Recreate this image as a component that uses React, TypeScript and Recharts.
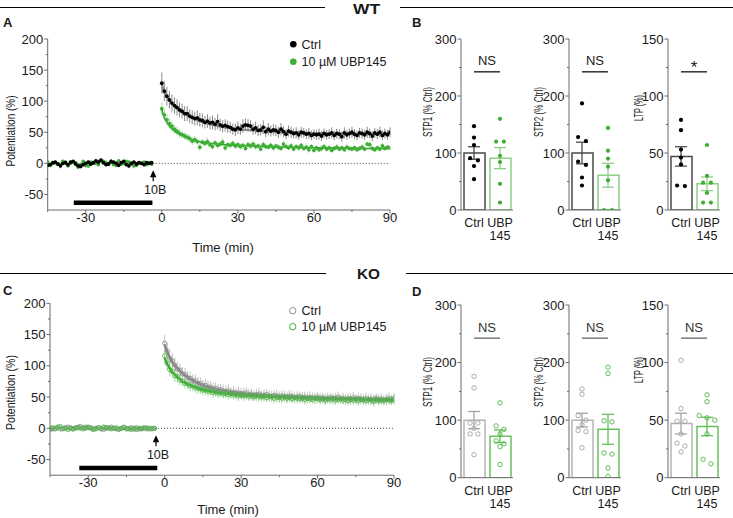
import React from 'react';
import {
  ComposedChart, Scatter, Line, Bar, Cell, XAxis, YAxis, ErrorBar, ReferenceLine, ReferenceDot,
} from 'recharts';

const FONT = '"Liberation Sans", Arial, Helvetica, sans-serif';
const INK = '#1a1a1a';
const AXIS = '#6b6b6b';
const GREEN = '#3eae35';
const GREEN_ERR = '#a6d9a0';
const TICK_FS = 13;

// ---------- time courses (A = WT, C = KO), one sample per minute ----------
const BASE_START = -45;
const POST_START = 0;
const T_MAJOR = [-30, 0, 30, 60, 90];
const T_TICKS = [-45, -30, -15, 0, 15, 30, 45, 60, 75, 90];
const P_MAJOR = [-50, 0, 50, 100, 150, 200];
const P_TICKS = [-50, -25, 0, 25, 50, 75, 100, 125, 150, 175, 200];
const ARROW_T = -3.4;
const DRUG_A = [-34.7, -3.7];
const DRUG_C = [-33.5, -2.9];
const LEGEND = ['Ctrl', '10 \u00b5M UBP145'];

const A_BASE_CTRL = [-3, -2, 1, 2, -1, -4, 0, 1, -2, 2, 3, -1, -4, -5, -2, 0, 2, -1, 1, 4, 2, 5, 1, -2, -1, 3, 2, 0, -3, 1, 3, -2, -4, 0, 2, -1, 1, 0, -2, 1, 0, 1];
const A_BASE_CTRL_SEM = [3, 2, 3, 3, 2, 4, 3, 2, 3, 3, 2, 3, 4, 3, 3, 2, 3, 3, 2, 3, 4, 3, 2, 3, 3, 4, 2, 3, 3, 2, 3, 3, 4, 3, 2, 3, 3, 2, 3, 3, 2, 3];
const A_BASE_UBP = [2, -3, 0, 1, -1, -2, 3, 2, -4, 0, 2, 1, -6, -2, 3, -3, -4, 2, 1, 0, -2, 4, 3, 1, -1, 2, -2, -3, 4, -1, 0, 3, 2, -1, -4, -3, 1, 0, 2, -2, 1, -1];
const A_BASE_UBP_SEM = [2, 3, 2, 3, 3, 2, 3, 4, 2, 3, 3, 2, 3, 3, 2, 4, 3, 2, 3, 3, 2, 3, 3, 4, 2, 3, 2, 3, 3, 2, 3, 2, 3, 3, 4, 2, 3, 3, 2, 3, 3, 2];
const A_POST_CTRL = [129, 116, 108, 102, 97, 93, 90, 86, 84, 80, 80, 76, 74, 72, 73, 70, 69, 66, 68, 65, 66, 63, 67, 62, 60, 61, 59, 58, 55, 54, 57, 55, 60, 62, 61, 60, 55, 57, 53, 54, 58, 51, 55, 52, 54, 53, 50, 55, 51, 47, 52, 50, 48, 49, 46, 50, 49, 47, 48, 45, 47, 46, 47, 44, 48, 46, 47, 49, 45, 48, 47, 43, 49, 46, 48, 50, 47, 45, 49, 48, 46, 50, 48, 44, 49, 47, 50, 45, 48, 46, 50];
const A_POST_CTRL_SEM = [17, 16, 15, 14, 14, 13, 13, 12, 12, 12, 12, 11, 11, 11, 12, 11, 11, 10, 11, 10, 11, 10, 12, 10, 10, 10, 10, 9, 9, 10, 10, 9, 11, 10, 10, 9, 9, 10, 9, 9, 11, 9, 10, 9, 9, 9, 9, 10, 9, 8, 9, 9, 8, 9, 8, 9, 8, 8, 9, 8, 8, 8, 9, 8, 8, 8, 8, 9, 8, 8, 8, 8, 9, 8, 8, 9, 8, 8, 8, 8, 8, 9, 8, 8, 8, 8, 9, 8, 8, 8, 8];
const A_POST_UBP = [88, 78, 70, 64, 60, 55, 52, 48, 46, 44, 42, 40, 36, 38, 35, 26, 34, 32, 35, 30, 27, 33, 29, 31, 34, 25, 30, 29, 32, 28, 30, 27, 29, 24, 30, 28, 31, 27, 28, 23, 30, 27, 26, 29, 25, 28, 26, 24, 31, 27, 25, 28, 23, 27, 25, 29, 24, 26, 22, 27, 21, 25, 22, 24, 27, 23, 25, 21, 24, 26, 23, 25, 22, 26, 24, 23, 25, 22, 24, 26, 23, 31, 30, 24, 22, 25, 23, 28, 24, 26, 25];
const A_POST_UBP_SEM = [10, 9, 9, 8, 8, 7, 7, 7, 6, 6, 6, 6, 6, 6, 5, 6, 5, 5, 6, 5, 5, 5, 5, 5, 6, 5, 5, 5, 5, 5, 5, 5, 5, 4, 5, 5, 5, 5, 5, 4, 5, 5, 4, 5, 5, 4, 5, 4, 5, 4, 4, 5, 4, 4, 5, 4, 4, 4, 5, 4, 4, 4, 4, 5, 4, 4, 4, 4, 4, 5, 4, 4, 4, 4, 4, 4, 5, 4, 4, 4, 4, 4, 5, 4, 4, 4, 4, 5, 4, 4, 4];

const C_BASE_CTRL = [-2, -1, 0, 1, -1, 0, 1, 2, 0, -1, 1, 2, 3, 1, 0, 2, 1, -1, 0, 1, -1, -2, 0, 1, 2, 0, -1, -2, 0, 1, 0, -1, 1, 0, -2, -1, 0, 1, -1, 0, -1, 0];
const C_BASE_CTRL_SEM = [2, 3, 2, 2, 3, 2, 3, 2, 2, 3, 2, 3, 2, 2, 3, 2, 2, 3, 2, 2, 3, 2, 2, 3, 2, 2, 3, 2, 3, 2, 2, 3, 2, 2, 3, 2, 2, 3, 2, 2, 3, 2];
const C_BASE_UBP = [0, 1, -1, 2, 3, -1, 0, -2, 1, -1, 0, 1, 0, -1, 2, 1, 0, -2, -1, 1, 0, 2, 1, 0, -1, 0, 1, -1, 0, 2, -1, 0, -2, -1, 1, 0, -1, 0, 1, -1, 0, 0];
const C_BASE_UBP_SEM = [3, 2, 2, 3, 2, 2, 3, 2, 3, 2, 2, 2, 3, 2, 2, 3, 2, 3, 2, 2, 2, 3, 2, 2, 3, 2, 2, 2, 3, 2, 3, 2, 2, 3, 2, 2, 3, 2, 2, 2, 3, 2];
const C_POST_CTRL = [136, 124, 112, 108, 101, 95, 93, 87, 86, 81, 80, 76, 76, 72, 72, 68, 69, 66, 66, 63, 64, 61, 62, 60, 59, 60, 57, 58, 56, 57, 56, 55, 57, 54, 55, 53, 54, 55, 52, 53, 54, 52, 51, 53, 52, 50, 52, 51, 50, 52, 51, 49, 50, 51, 49, 50, 48, 50, 49, 48, 50, 48, 49, 47, 48, 49, 47, 48, 50, 47, 48, 46, 48, 47, 49, 46, 48, 47, 46, 48, 46, 47, 45, 48, 46, 47, 45, 46, 48, 46, 47];
const C_POST_CTRL_SEM = [14, 13, 13, 12, 12, 12, 11, 11, 11, 11, 11, 10, 10, 10, 10, 10, 10, 10, 10, 10, 10, 10, 9, 10, 9, 10, 9, 10, 9, 9, 9, 10, 9, 9, 9, 9, 9, 10, 9, 9, 9, 9, 9, 9, 10, 9, 9, 9, 9, 9, 9, 9, 9, 8, 9, 9, 9, 9, 8, 9, 9, 9, 8, 9, 9, 8, 9, 9, 9, 8, 9, 9, 8, 9, 9, 8, 9, 9, 9, 9, 8, 9, 9, 8, 9, 9, 8, 9, 9, 8, 9];
const C_POST_UBP = [116, 104, 94, 91, 84, 83, 77, 76, 72, 71, 68, 68, 65, 64, 63, 61, 61, 59, 60, 57, 58, 56, 57, 55, 56, 54, 55, 53, 54, 52, 53, 52, 53, 51, 52, 50, 52, 51, 50, 51, 49, 51, 50, 48, 50, 49, 48, 50, 48, 49, 47, 49, 48, 47, 48, 46, 48, 47, 46, 48, 47, 46, 47, 45, 47, 46, 48, 45, 46, 47, 45, 46, 44, 46, 45, 47, 44, 46, 45, 44, 46, 45, 43, 46, 44, 45, 44, 46, 45, 44, 48];
const C_POST_UBP_SEM = [12, 11, 11, 10, 10, 10, 9, 9, 9, 9, 9, 9, 8, 9, 8, 8, 8, 8, 8, 8, 8, 8, 8, 7, 8, 8, 8, 7, 8, 8, 7, 8, 8, 7, 8, 7, 8, 8, 7, 8, 7, 8, 7, 8, 7, 7, 8, 7, 8, 7, 7, 7, 8, 7, 7, 8, 7, 7, 7, 8, 7, 7, 7, 8, 7, 7, 7, 8, 7, 7, 7, 8, 7, 7, 7, 7, 8, 7, 7, 7, 7, 7, 8, 7, 7, 7, 7, 8, 7, 7, 7];

// exponential fits, read at a few times
const FIT_T = [0, 1, 2, 3, 5, 7, 10, 15, 20, 25, 30, 40, 50, 60, 70, 80, 90];
const A_FIT_CTRL = [127, 115, 107, 101, 92, 85, 77, 68, 62, 58, 55, 52, 50, 48, 48, 47, 47];
const A_FIT_UBP = [86, 74, 66, 60, 52, 47, 41, 35, 32, 30, 29, 27, 26, 25, 25, 24, 24];
const C_FIT_CTRL = [134, 122, 113, 106, 96, 88, 79, 69, 63, 59, 56, 53, 51, 49, 48, 47, 46];
const C_FIT_UBP = [113, 103, 96, 90, 82, 75, 69, 62, 58, 55, 53, 51, 49, 48, 47, 46, 45];

// ---------- bar panels (B = WT, D = KO) ----------
const CATS = ['Ctrl', 'UBP 145'];
const B1_MEAN = [100, 91];
const B1_SEM = [11, 18.5];
const B1_CTRL = [147, 127, 114, 91, 87, 77, 54];
const B1_UBP = [160, 120, 120, 95, 84, 46, 13];
const B2_MEAN = [100, 61];
const B2_SEM = [19, 21];
const B2_CTRL = [187, 128, 121, 85, 79, 57, 43];
const B2_UBP = [144, 104, 90, 76, 52, 0, 0];
const B3_MEAN = [47, 23];
const B3_SEM = [8.5, 6];
const B3_CTRL = [79, 70, 53, 46, 40, 21, 21.5];
const B3_UBP = [57, 30, 24, 24, 15, 6.5, 6.5];
const D1_MEAN = [100, 72];
const D1_SEM = [15, 11];
const D1_CTRL = [176, 156, 95, 95, 86, 76, 76, 40];
const D1_UBP = [130, 90, 84, 76, 64, 59, 54, 23];
const D2_MEAN = [100, 84];
const D2_SEM = [12, 26];
const D2_CTRL = [154, 145, 108, 100, 92, 82, 80, 52];
const D2_UBP = [192, 181, 99, 97, 43, 41, 17, 2];
const D3_MEAN = [47, 44.5];
const D3_SEM = [9, 8];
const D3_CTRL = [102, 60, 49, 49, 38, 30, 27.5, 22.5];
const D3_UBP = [72, 66, 54, 52, 50, 38, 16, 12];

const pts = (start: number, vals: number[], errs: number[]) =>
  vals.map((y, i) => ({ t: start + i, y, e: errs[i] }));
const fit = (vals: number[]) => FIT_T.map((t, i) => ({ t, y: vals[i] }));

const xTick = (majors: number[]) => (p: any) => {
  const v = p.payload.value;
  const major = majors.includes(v);
  return (
    <g>
      <line x1={p.x} x2={p.x} y1={p.y} y2={p.y + (major ? 3.5 : 2)} stroke={AXIS} />
      {major && (
        <text x={p.x} y={p.y + 12} textAnchor="middle" fontSize={TICK_FS} fontFamily={FONT} fill={INK}>{v}</text>
      )}
    </g>
  );
};

const yTick = (majors: number[]) => (p: any) => {
  const v = p.payload.value;
  const major = majors.includes(v);
  return (
    <g>
      <line x1={p.x - (major ? 3.5 : 2)} x2={p.x} y1={p.y} y2={p.y} stroke={AXIS} />
      {major && (
        <text x={p.x - 4.5} y={p.y} dy="0.36em" textAnchor="end" fontSize={TICK_FS} fontFamily={FONT} fill={INK}>{v}</text>
      )}
    </g>
  );
};

const catTick = (p: any) => (
  <g>
    {String(p.payload.value).split(' ').map((s, i) => (
      <text key={i} x={p.x} y={p.y + 17 + i * 13} textAnchor="middle" fontSize={12.5} fontFamily={FONT} fill={INK}>{s}</text>
    ))}
  </g>
);

const arrowMark = (p: any) => (
  <g>
    <path d={`M${p.cx},${p.cy} l-3.2,7 l6.4,0 z`} fill="#000" />
    <line x1={p.cx} x2={p.cx} y1={p.cy + 6} y2={p.cy + 11} stroke="#000" strokeWidth={1.2} />
    <text x={p.cx + 2} y={p.cy + 24} textAnchor="middle" fontSize={12.5} fontFamily={FONT} fill={INK}>10B</text>
  </g>
);

function dotSeries(key: string, data: any[], color: string, err: string, open: boolean, r: number) {
  return (
    <Scatter
      key={key}
      data={data}
      dataKey="y"
      isAnimationActive={false}
      shape={(p: any) =>
        open ? (
          <circle cx={p.cx} cy={p.cy} r={r} fill="none" stroke={color} strokeWidth={0.9} />
        ) : (
          <circle cx={p.cx} cy={p.cy} r={r} fill={color} />
        )
      }
    >
      <ErrorBar dataKey="e" direction="y" width={0} stroke={err} strokeWidth={1} isAnimationActive={false} />
    </Scatter>
  );
}

function fitLine(key: string, data: any[], color: string, w: number) {
  return (
    <Line key={key} data={data} dataKey="y" type="monotone" dot={false} activeDot={false}
      stroke={color} strokeWidth={w} isAnimationActive={false} />
  );
}

function timeChart(top: number, margin: any, drug: number[], layers: React.ReactNode[]) {
  return (
    <div style={{ position: 'absolute', left: 0, top }}>
      <ComposedChart width={412} height={240} margin={margin}>
        <XAxis dataKey="t" type="number" domain={[-45, 90]} ticks={T_TICKS} interval={0} allowDataOverflow
          height={30} tickSize={0} tickMargin={0} tickLine={false} axisLine={{ stroke: AXIS }} tick={xTick(T_MAJOR)} />
        <YAxis type="number" domain={[-75, 200]} ticks={P_TICKS} interval={0} allowDataOverflow
          width={40} tickSize={0} tickMargin={0} tickLine={false} axisLine={{ stroke: AXIS }} tick={yTick(P_MAJOR)} />
        <ReferenceLine y={0} stroke="#333" strokeDasharray="1 2" strokeWidth={0.9} />
        <ReferenceLine segment={[{ x: drug[0], y: -63.5 }, { x: drug[1], y: -63.5 }]} stroke="#000" strokeWidth={4.5} />
        <ReferenceDot x={ARROW_T} y={-11} r={0} shape={arrowMark} ifOverflow="visible" />
        {layers}
      </ComposedChart>
    </div>
  );
}

function spread(vals: number[], tol: number) {
  const order = vals.map((_, i) => i).sort((a, b) => vals[b] - vals[a]);
  const off = vals.map(() => 0);
  let group: number[] = [];
  const flush = () => {
    group.forEach((g, k) => { off[g] = (k - (group.length - 1) / 2) * 0.3; });
    group = [];
  };
  order.forEach((i) => {
    if (group.length && Math.abs(vals[group[0]] - vals[i]) > tol) flush();
    group.push(i);
  });
  flush();
  return off;
}

const WT_COL = { bar: ['#4a4a4a', '#8dd086'], dot: ['#000', GREEN], sem: ['#4a4a4a', '#8dd086'], open: false, sig: '#111' };
const KO_COL = { bar: ['#b5b5b5', '#66bf5d'], dot: ['#a3a3a3', '#4db545'], sem: ['#a3a3a3', '#66bf5d'], open: true, sig: '#666' };

function BarPanel(props: any) {
  const { left, top, height, mb, max, means, sems, ctrl, ubp, sig, ko } = props;
  const col = ko ? KO_COL : WT_COL;
  const step = max / 6;
  const ticks = [0, 1, 2, 3, 4, 5, 6].map((k) => k * step);
  const majors = [0, 2, 4, 6].map((k) => k * step);
  const rows = CATS.map((name, i) => ({ name, mean: means[i] }));
  const offC = spread(ctrl, max * 0.028);
  const offU = spread(ubp, max * 0.028);
  const groups = [
    ctrl.map((y: number, i: number) => ({ x: 0.5 + offC[i], y })),
    ubp.map((y: number, i: number) => ({ x: 1.5 + offU[i], y })),
  ];
  const sigY = max * 0.808;
  return (
    <div style={{ position: 'absolute', left, top }}>
      <ComposedChart width={100} height={height} data={rows} margin={{ top: 9, right: 7, bottom: mb, left: 0 }}>
        <XAxis xAxisId="a" dataKey="name" type="category" height={30} tickSize={0} tickMargin={0} tickLine={false}
          axisLine={{ stroke: AXIS }} tick={catTick} interval={0} />
        <XAxis xAxisId="n" dataKey="x" type="number" domain={[0, 2]} hide allowDataOverflow />
        <YAxis type="number" domain={[0, max]} ticks={ticks} interval={0} allowDataOverflow width={41}
          tickSize={0} tickMargin={0} tickLine={false} axisLine={{ stroke: AXIS }} tick={yTick(majors)} />
        <Bar xAxisId="a" dataKey="mean" barSize={21} isAnimationActive={false}>
          {rows.map((r, i) => (
            <Cell key={r.name} fill="#fff" stroke={col.bar[i]} strokeWidth={1.5} />
          ))}
        </Bar>
        {groups.map((g: any[], gi: number) => (
          <Scatter key={'d' + gi} xAxisId="n" data={g} dataKey="y" isAnimationActive={false}
            shape={(p: any) =>
              col.open ? (
                <circle cx={p.cx} cy={p.cy} r={2.2} fill="none" stroke={col.dot[gi]} strokeWidth={0.9} />
              ) : (
                <circle cx={p.cx} cy={p.cy} r={2.1} fill={col.dot[gi]} />
              )
            } />
        ))}
        {[0, 1].map((gi) => (
          <Scatter key={'s' + gi} xAxisId="n" data={[{ x: 0.5 + gi, y: means[gi], e: sems[gi] }]} dataKey="y"
            isAnimationActive={false} shape={() => <g />}>
            <ErrorBar dataKey="e" direction="y" width={6} stroke={col.sem[gi]} strokeWidth={1.3} isAnimationActive={false} />
          </Scatter>
        ))}
        <ReferenceLine xAxisId="n" segment={[{ x: 0.5, y: sigY }, { x: 1.5, y: sigY }]} stroke={col.sig}
          strokeWidth={1.3}
          label={{ value: sig, position: 'top', offset: sig === '*' ? -1 : 6.5, fill: ko ? '#333' : INK,
            fontSize: sig === '*' ? 17 : 13, fontFamily: FONT }} />
      </ComposedChart>
    </div>
  );
}

// rotated axis title, centred at (x, y), squeezed to the measured length
const VLabel = ({ x, y, len, children }: any) => (
  <text transform={`translate(${x},${y + len / 2}) rotate(-90)`} textAnchor="start" dominantBaseline="central"
    fontSize={13} textLength={len} lengthAdjust="spacingAndGlyphs" fontFamily={FONT} fill={INK}>{children}</text>
);

function Overlay() {
  const t = { fontFamily: FONT, fill: INK };
  const bold = { ...t, fontWeight: 'bold' as const };
  return (
    <svg width={733} height={518} style={{ position: 'absolute', left: 0, top: 0, pointerEvents: 'none' }}>
      <line x1={0} x2={325} y1={7.5} y2={7.5} stroke="#000" strokeWidth={1.2} />
      <line x1={400} x2={733} y1={7.5} y2={7.5} stroke="#000" strokeWidth={1.2} />
      <line x1={0} x2={326} y1={273.5} y2={273.5} stroke="#000" strokeWidth={1.2} />
      <line x1={406} x2={733} y1={273.5} y2={273.5} stroke="#000" strokeWidth={1.2} />
      <text x={353} y={13.5} fontSize={15} textLength={27} lengthAdjust="spacingAndGlyphs" {...bold}>WT</text>
      <text x={357} y={279} fontSize={15} textLength={23} lengthAdjust="spacingAndGlyphs" {...bold}>KO</text>
      <text x={3} y={27} fontSize={13} {...bold}>A</text>
      <text x={412} y={27} fontSize={13} {...bold}>B</text>
      <text x={3} y={295} fontSize={13} {...bold}>C</text>
      <text x={412} y={296} fontSize={13} {...bold}>D</text>

      <VLabel x={10.5} y={131} len={71}>Potentiation (%)</VLabel>
      <VLabel x={10.5} y={392.5} len={75}>Potentiation (%)</VLabel>
      <text x={223} y={252} textAnchor="middle" fontSize={13} {...t}>Time (min)</text>
      <text x={228} y={514} textAnchor="middle" fontSize={13} {...t}>Time (min)</text>

      <VLabel x={427.5} y={112} len={50}>STP1 (% Ctrl)</VLabel>
      <VLabel x={538} y={112} len={50}>STP2 (% Ctrl)</VLabel>
      <VLabel x={638} y={108} len={26}>LTP (%)</VLabel>
      <VLabel x={427.5} y={382} len={50}>STP1 (% Ctrl)</VLabel>
      <VLabel x={538} y={382} len={50}>STP2 (% Ctrl)</VLabel>
      <VLabel x={638} y={370} len={26}>LTP (%)</VLabel>

      <circle cx={293.3} cy={44.3} r={3.3} fill="#000" />
      <text x={301.5} y={48.5} fontSize={12.5} {...t}>{LEGEND[0]}</text>
      <circle cx={293.3} cy={61.7} r={3.3} fill={GREEN} />
      <text x={301.5} y={66} fontSize={12.5} {...t}>{LEGEND[1]}</text>

      <circle cx={292.7} cy={310.7} r={3.2} fill="none" stroke="#8c8c8c" strokeWidth={1} />
      <text x={301.5} y={315} fontSize={12.5} {...t}>{LEGEND[0]}</text>
      <circle cx={292.7} cy={326.7} r={3.2} fill="none" stroke={GREEN} strokeWidth={1} />
      <text x={301.5} y={331} fontSize={12.5} {...t}>{LEGEND[1]}</text>
    </svg>
  );
}

export default function App() {
  const aCtrl = [...pts(BASE_START, A_BASE_CTRL, A_BASE_CTRL_SEM), ...pts(POST_START, A_POST_CTRL, A_POST_CTRL_SEM)];
  const aUbp = [...pts(BASE_START, A_BASE_UBP, A_BASE_UBP_SEM), ...pts(POST_START, A_POST_UBP, A_POST_UBP_SEM)];
  const cCtrl = [...pts(BASE_START, C_BASE_CTRL, C_BASE_CTRL_SEM), ...pts(POST_START, C_POST_CTRL, C_POST_CTRL_SEM)];
  const cUbp = [...pts(BASE_START, C_BASE_UBP, C_BASE_UBP_SEM), ...pts(POST_START, C_POST_UBP, C_POST_UBP_SEM)];

  return (
    <div style={{ position: 'absolute', left: 0, top: 0, width: 733, height: 518, overflow: 'hidden', background: '#fff', fontFamily: FONT }}>
      {timeChart(0, { top: 39, right: 22, bottom: 0, left: 7.7 }, DRUG_A, [
        dotSeries('au', aUbp, GREEN, GREEN_ERR, false, 1.9),
        fitLine('afu', fit(A_FIT_UBP), '#35a52c', 1.6),
        fitLine('afc', fit(A_FIT_CTRL), '#8a8a8a', 2.4),
        dotSeries('ac', aCtrl, '#000', '#8a8a8a', false, 1.9),
      ])}
      {timeChart(270, { top: 33.3, right: 18, bottom: 4.8, left: 10 }, DRUG_C, [
        dotSeries('cc', cCtrl, '#8c8c8c', '#c2c2c2', true, 2.1),
        dotSeries('cu', cUbp, '#4db545', GREEN_ERR, true, 2.1),
        fitLine('cfc', fit(C_FIT_CTRL), '#888', 2.6),
        fitLine('cfu', fit(C_FIT_UBP), '#35a52c', 2.2),
      ])}

      <BarPanel left={420} top={30} height={225} mb={15} max={300} means={B1_MEAN} sems={B1_SEM} ctrl={B1_CTRL} ubp={B1_UBP} sig="NS" />
      <BarPanel left={527.7} top={30} height={225} mb={15} max={300} means={B2_MEAN} sems={B2_SEM} ctrl={B2_CTRL} ubp={B2_UBP} sig="NS" />
      <BarPanel left={627.3} top={30} height={225} mb={15} max={150} means={B3_MEAN} sems={B3_SEM} ctrl={B3_CTRL} ubp={B3_UBP} sig="*" />
      <BarPanel left={420} top={296} height={222} mb={10.3} max={300} means={D1_MEAN} sems={D1_SEM} ctrl={D1_CTRL} ubp={D1_UBP} sig="NS" ko />
      <BarPanel left={527.7} top={296} height={222} mb={10.3} max={300} means={D2_MEAN} sems={D2_SEM} ctrl={D2_CTRL} ubp={D2_UBP} sig="NS" ko />
      <BarPanel left={627.3} top={296} height={222} mb={10.3} max={150} means={D3_MEAN} sems={D3_SEM} ctrl={D3_CTRL} ubp={D3_UBP} sig="NS" ko />

      <Overlay />
    </div>
  );
}
